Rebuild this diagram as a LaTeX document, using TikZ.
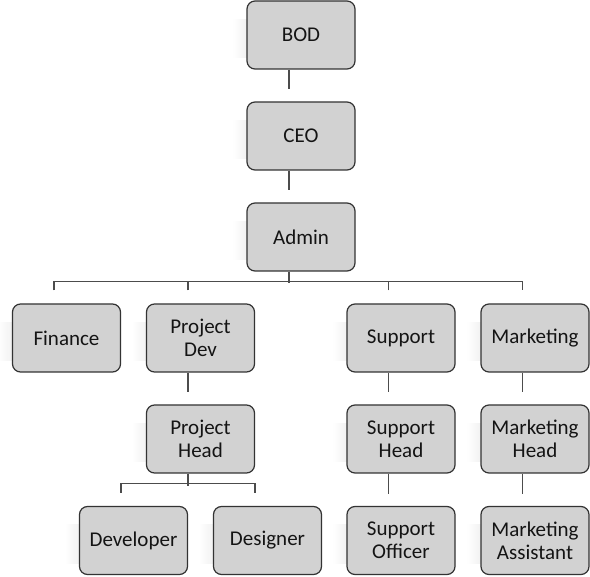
\documentclass[tikz,border=0pt]{standalone}
\usepackage{fontspec}
\setmainfont{Carlito}
\usetikzlibrary{backgrounds}
\begin{document}
\begin{tikzpicture}[x=1pt,y=-1pt,
  orgbox/.style={draw=black!80, fill=gray!35, rounded corners=8pt, line width=1.2pt,
    minimum width=108pt, minimum height=68pt, align=center, inner sep=2pt,
    text=black!92, font=\fontsize{21}{23}\selectfont},
  conn/.style={draw=black!70, line width=1.2pt},
  refl/.style={left color=white, right color=gray!11, draw=none}]
\useasboundingbox (0,0) rectangle (590,577);
\node[orgbox] (bod) at (301,35) {BOD};
\node[orgbox] (ceo) at (301,136) {CEO};
\node[orgbox] (admin) at (301,237) {Admin};
\node[orgbox] (finance) at (66.5,338) {Finance};
\node[orgbox] (projdev) at (200.5,338) {Project\\Dev};
\node[orgbox] (support) at (401,338) {Support};
\node[orgbox] (marketing) at (535,338) {Marketing};
\node[orgbox] (projhead) at (200.5,439) {Project\\Head};
\node[orgbox] (supphead) at (401,439) {Support\\Head};
\node[orgbox] (mkthead) at (535,439) {Marketing\\Head};
\node[orgbox] (developer) at (133.5,540.5) {Developer};
\node[orgbox] (designer) at (267.5,540.5) {Designer};
\node[orgbox] (suppofficer) at (401,540.5) {Support\\Officer};
\node[orgbox] (mktassist) at (535,540.5) {Marketing\\Assistant};
\begin{pgfonlayer}{background}
\foreach \n in {bod,ceo,admin,finance,projdev,support,marketing,projhead,supphead,mkthead,developer,designer,suppofficer,mktassist}{
  \shade[refl] ([xshift=-14pt,yshift=-19pt]\n.north west) rectangle ([xshift=1pt,yshift=12pt]\n.south west);
}
\end{pgfonlayer}
% connectors
\draw[conn] ([xshift=-12pt]bod.south) -- ([xshift=-12pt,yshift=12pt]ceo.north);
\draw[conn] ([xshift=-12pt]ceo.south) -- ([xshift=-12pt,yshift=12pt]admin.north);
\draw[conn] ([xshift=-12pt]admin.south) -- ([xshift=-12pt,yshift=-11pt]admin.south);
\draw[conn] ([xshift=-12.5pt,yshift=13pt]finance.north) |- ([xshift=-12.5pt,yshift=22pt]marketing.north) -- ([xshift=-12.5pt,yshift=13pt]marketing.north);
\draw[conn] ([xshift=-12.5pt,yshift=13pt]projdev.north) -- ([xshift=-12.5pt,yshift=22pt]projdev.north);
\draw[conn] ([xshift=-12.5pt,yshift=13pt]support.north) -- ([xshift=-12.5pt,yshift=22pt]support.north);
\draw[conn] ([xshift=-12.5pt]projdev.south) -- ([xshift=-12.5pt,yshift=12pt]projhead.north);
\draw[conn] ([xshift=-12.5pt]support.south) -- ([xshift=-12.5pt,yshift=12pt]supphead.north);
\draw[conn] ([xshift=-12.5pt]marketing.south) -- ([xshift=-12.5pt,yshift=12pt]mkthead.north);
\draw[conn] ([xshift=-12.5pt]projhead.south) -- ([xshift=-12.5pt,yshift=-12pt]projhead.south);
\draw[conn] ([xshift=-12.5pt,yshift=13pt]developer.north) |- ([xshift=-12.5pt,yshift=22pt]designer.north) -- ([xshift=-12.5pt,yshift=13pt]designer.north);
\draw[conn] ([xshift=-12.5pt]supphead.south) -- ([xshift=-12.5pt,yshift=12pt]suppofficer.north);
\draw[conn] ([xshift=-12.5pt]mkthead.south) -- ([xshift=-12.5pt,yshift=12pt]mktassist.north);
\end{tikzpicture}
\end{document}
